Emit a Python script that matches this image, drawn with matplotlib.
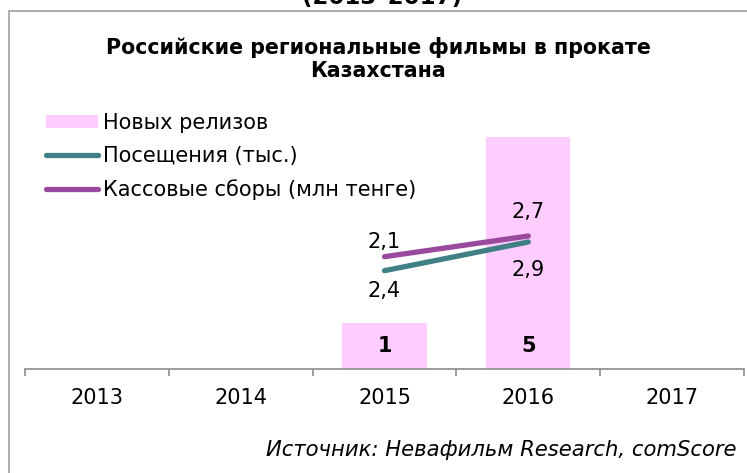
import matplotlib
matplotlib.use('Agg')
import matplotlib.pyplot as plt
from matplotlib.patches import Rectangle
from matplotlib.lines import Line2D
from matplotlib.patches import Patch

years = ['2013', '2014', '2015', '2016', '2017']
releases = [None, None, 1, 5, None]
visits = [None, None, 2.4, 2.9, None]        # Посещения (тыс.)
box_office = [None, None, 2.1, 2.7, None]    # Кассовые сборы (млн тенге)
visit_labels = ['', '', '2,4', '2,9', '']
box_labels = ['', '', '2,1', '2,7', '']

PINK = '#ffccff'
TEAL = '#3f8085'
PURPLE = '#9a4a9e'
GRID = '#8c8c8c'
FS = 15

plt.rcParams['font.family'] = ['DejaVu Sans']

W, H = 747, 473
fig = plt.figure(figsize=(W / 100, H / 100), dpi=100)

# рамка диаграммы (правый край за пределами картинки)
fig.patches.append(Rectangle((9 / W, -0.05), 1.0, (H - 11) / H + 0.05, transform=fig.transFigure,
                             fill=False, edgecolor='#a0a0a0', lw=1.2))
fig.text(382 / W, 1 - 9 / H, '(2013–2017)', ha='center', va='bottom', fontsize=16.5,
         fontweight='bold')

fig.text(378 / W, 1 - 59 / H, 'Российские региональные фильмы в прокате\nКазахстана',
         ha='center', va='center', fontsize=14.8, fontweight='bold', linespacing=1.15)

ax = fig.add_axes([25 / W, (H - 369) / H, (744 - 25) / W, 249 / H])
x = list(range(len(years)))
bx = [i for i, v in zip(x, releases) if v is not None]
bv = [v for v in releases if v is not None]
ax.bar(bx, bv, width=0.585, color=PINK, zorder=1)
ax.set_xlim(-0.5, len(years) - 0.5)
ax.set_ylim(0, 5.355)
for i, v in zip(bx, bv):
    ax.annotate(str(v), (i, 0), xytext=(0, 16.6), textcoords='offset points',
                ha='center', va='center', fontsize=FS, fontweight='bold')

ax.set_xticks([i - 0.5 for i in range(len(years) + 1)])
ax.set_xticklabels([])
ax.set_xticks(x, minor=True)
ax.set_xticklabels(years, minor=True, fontsize=FS)
ax.tick_params(axis='x', which='major', length=5, color=GRID, width=1.2)
ax.tick_params(axis='x', which='minor', length=0, pad=14)
ax.set_yticks([])
for s in ['top', 'right', 'left']:
    ax.spines[s].set_visible(False)
ax.spines['bottom'].set_color(GRID)
ax.spines['bottom'].set_linewidth(1.2)
ax.patch.set_visible(False)

# посещения - отдельная скрытая ось
ax_v = fig.add_axes(ax.get_position(), sharex=ax)
ax_v.set_ylim(0.6875, 5.025)
ax_v.axis('off')
vx = [i for i, v in zip(x, visits) if v is not None]
vv = [v for v in visits if v is not None]
ax_v.plot(vx, vv, color=TEAL, lw=3.8, solid_capstyle='round', zorder=3)
for i, v, lab in zip(x, visits, visit_labels):
    if v is None:
        continue
    off = -14.4 if i == 2 else -20
    ax_v.annotate(lab, (i, v), xytext=(0, off), textcoords='offset points',
                  ha='center', va='center', fontsize=FS)

# кассовые сборы - еще одна скрытая ось
ax_b = fig.add_axes(ax.get_position(), sharex=ax)
ax_b.set_ylim(-1.155, 6.062)
ax_b.axis('off')
px = [i for i, v in zip(x, box_office) if v is not None]
pv = [v for v in box_office if v is not None]
ax_b.plot(px, pv, color=PURPLE, lw=3.8, solid_capstyle='round', zorder=3)
for i, v, lab in zip(x, box_office, box_labels):
    if v is None:
        continue
    off = 10.8 if i == 2 else 17.3
    ax_b.annotate(lab, (i, v), xytext=(0, off), textcoords='offset points',
                  ha='center', va='center', fontsize=FS)

handles = [Patch(facecolor=PINK, edgecolor='none'),
           Line2D([], [], color=TEAL, lw=3.8, solid_capstyle='round'),
           Line2D([], [], color=PURPLE, lw=3.8, solid_capstyle='round')]
names = ['Новых релизов', 'Посещения (тыс.)', 'Кассовые сборы (млн тенге)']
fig.legend(handles, names, loc='upper left', bbox_to_anchor=(46 / W, 1 - 113 / H),
           frameon=False, fontsize=FS, handlelength=2.5, handletextpad=0.25,
           handleheight=0.55, labelspacing=0.62, borderaxespad=0, borderpad=0)

fig.text(737 / W, 1 - 450 / H, 'Источник: Невафильм Research, comScore', ha='right',
         va='center', fontsize=15.2, style='italic')

fig.savefig('out.png', dpi=100)
